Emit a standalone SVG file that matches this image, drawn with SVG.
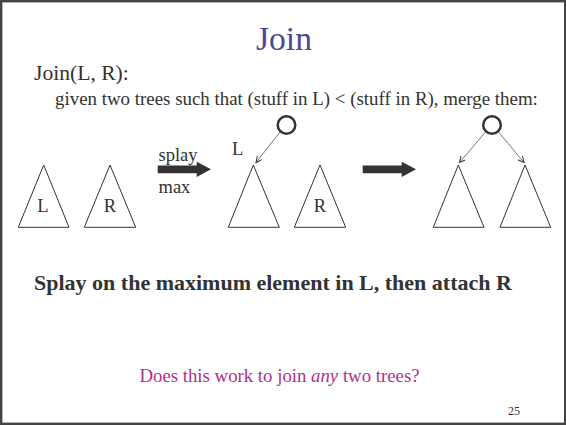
<svg xmlns="http://www.w3.org/2000/svg" width="566" height="426" viewBox="0 0 566 426">
<defs>
<style>
.tri{fill:none;stroke:#333;stroke-width:1}
.node{fill:#fff;stroke:#333;stroke-width:2.5}
.edge{stroke:#555;stroke-width:0.8;fill:none;marker-end:url(#ah)}
.big{fill:#333}
</style>
<marker id="ah" markerWidth="8" markerHeight="8" refX="6" refY="3" orient="auto" markerUnits="userSpaceOnUse">
<path d="M0,0 L6,3 L0,6" fill="none" stroke="#333" stroke-width="1"/>
</marker>
</defs>
<rect x="0" y="0" width="566" height="426" fill="#fff"/>
<rect x="1.2" y="1.2" width="564" height="422.6" fill="none" stroke="#444" stroke-width="2.4"/>
<text font-family="Liberation Serif" fill="#4a4a96" x="284" y="50" text-anchor="middle" font-size="33.6">Join</text>
<text font-family="Liberation Serif" fill="#333" x="34" y="80" font-size="21.6">Join(L, R):</text>
<text font-family="Liberation Serif" fill="#333" x="55" y="104.5" font-size="18.9">given two trees such that (stuff in L) &lt; (stuff in R), merge them:</text>

<g id="treeL1"><polygon class="tri" points="43.7,165 18.3,227.3 69,227.3"/><text font-family="Liberation Serif" fill="#333" x="43" y="212" text-anchor="middle" font-size="18.5">L</text></g>
<g id="treeR1"><polygon class="tri" points="110,165 84.3,227.3 135.7,227.3"/><text font-family="Liberation Serif" fill="#333" x="110" y="212" text-anchor="middle" font-size="18.5">R</text></g>

<g id="arrow1"><polygon class="big" points="157.7,165.5 196.7,165.5 196.7,161.7 211,169.3 196.7,176.9 196.7,173.2 157.7,173.2"/>
<text font-family="Liberation Serif" fill="#333" x="158.5" y="160.5" font-size="18.5">splay</text>
<text font-family="Liberation Serif" fill="#333" x="158.5" y="193" font-size="18.5">max</text></g>

<g id="root2"><circle class="node" cx="286.5" cy="125" r="8.8"/></g>
<text font-family="Liberation Serif" fill="#333" x="232" y="155" font-size="18.5">L</text>
<g id="treeL2"><polygon class="tri" points="253.3,165 228.3,227.3 279.3,227.3"/></g>
<g id="treeR2"><polygon class="tri" points="320,165 294.3,227.3 345.7,227.3"/><text font-family="Liberation Serif" fill="#333" x="320" y="212" text-anchor="middle" font-size="18.5">R</text></g>

<g id="arrow2"><polygon class="big" points="362.7,165.5 401.7,165.5 401.7,161.7 416,169.3 401.7,176.9 401.7,173.2 362.7,173.2"/></g>

<g id="root3"><circle class="node" cx="492" cy="125" r="8.8"/></g>
<g id="treeL3"><polygon class="tri" points="458.3,165 433.3,227.3 484,227.3"/></g>
<g id="treeR3"><polygon class="tri" points="525,165 500,227.3 550.7,227.3"/></g>

<text font-family="Liberation Serif" fill="#333" x="34" y="290" font-size="22" font-weight="bold">Splay on the maximum element in L, then attach R</text>
<text font-family="Liberation Serif" fill="#b0308c" x="279.5" y="382" text-anchor="middle" font-size="18.8">Does this work to join <tspan font-style="italic">any</tspan> two trees?</text>
<text font-family="Liberation Serif" fill="#333" x="514" y="415" text-anchor="middle" font-size="12">25</text>

<g id="connectors">
<line class="edge" x1="280" y1="132" x2="256" y2="162.5"/>
<line class="edge" x1="485.5" y1="132" x2="459.5" y2="162.5"/>
<line class="edge" x1="498.5" y1="132" x2="524" y2="162.5"/>
</g>
</svg>
